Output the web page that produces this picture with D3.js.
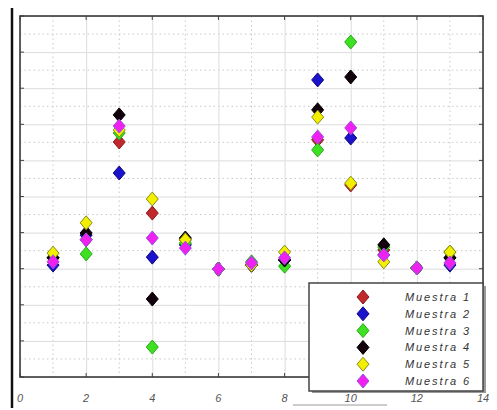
<!DOCTYPE html>
<html>
<head>
<meta charset="utf-8">
<script src="https://cdn.jsdelivr.net/npm/d3@7"></script>
<style>
  body { margin: 0; background: #fff; }
  svg { display: block; }
</style>
</head>
<body>
<div id="chart"></div>
<script>
// x positions of the samples
const xs = [1, 2, 3, 4, 5, 6, 7, 8, 9, 10, 11, 12, 13];

const muestra1 = [3.30, 3.80, 6.51, 4.54, 3.80, 2.99, 3.10, 3.24, 6.57, 5.32, 3.52, 3.02, 3.30];
const muestra2 = [3.10, 3.93, 5.65, 3.32, 3.66, 2.99, 3.10, 3.24, 8.23, 6.62, 3.38, 3.02, 3.10];
const muestra3 = [3.30, 3.41, 6.76, 0.83, 3.71, 2.99, 3.19, 3.07, 6.29, 9.28, 3.60, 3.02, 3.46];
const muestra4 = [3.30, 3.99, 7.26, 2.16, 3.85, 2.99, 3.10, 3.24, 7.40, 8.31, 3.66, 3.02, 3.30];
const muestra5 = [3.43, 4.27, 6.84, 4.93, 3.80, 2.99, 3.10, 3.46, 7.20, 5.37, 3.19, 3.02, 3.46];
const muestra6 = [3.19, 3.80, 6.95, 3.85, 3.57, 2.99, 3.16, 3.30, 6.65, 6.90, 3.38, 3.02, 3.16];

const names = ["Muestra 1", "Muestra 2", "Muestra 3", "Muestra 4", "Muestra 5", "Muestra 6"];
const fills = ["#c0282c", "#1a12cc", "#3ee022", "#12000c", "#f2f000", "#f020f0"];
const edges = ["#8a1a1e", "#10087a", "#28a818", "#000000", "#8a8a18", "#9a50e0"];

const xTicks = [0, 2, 4, 6, 8, 10, 12, 14];

let width = 497;
let height = 410;
let pLeft = 20, pRight = 483, pTop = 16, pBottom = 377;

let series = [muestra1, muestra2, muestra3, muestra4, muestra5, muestra6].map(function(vals, i) {
  return { name: names[i], fill: fills[i], edge: edges[i], points: xs.map(function(x, j) { return { x: x, y: vals[j] }; }) };
});

let svg = d3.select("#chart").append("svg")
  .attr("width", width)
  .attr("height", height);

let x = d3.scaleLinear().domain([0, 14]).range([pLeft, pRight]);
let y = d3.scaleLinear().domain([0, 10]).range([pBottom, pTop]);

let diamond = "M0,-7L6,0L0,7L-6,0Z";

// minor dotted grid
let grid = svg.append("g");
grid.selectAll("line.vminor")
  .data(d3.range(1, 14, 2))
  .enter().append("line")
  .attr("x1", function(d) { return x(d); }).attr("x2", function(d) { return x(d); })
  .attr("y1", pTop).attr("y2", pBottom)
  .attr("stroke", "#c8c8c8").attr("stroke-dasharray", "1.5,3");
grid.selectAll("line.hminor")
  .data(d3.range(0.5, 10, 1))
  .enter().append("line")
  .attr("y1", function(d) { return y(d); }).attr("y2", function(d) { return y(d); })
  .attr("x1", pLeft).attr("x2", pRight)
  .attr("stroke", "#c8c8c8").attr("stroke-dasharray", "1.5,3");

// major grid via axes
svg.append("g")
  .attr("transform", `translate(0, ${pBottom})`)
  .call(d3.axisBottom(x).tickValues(xTicks).tickSize(-(pBottom - pTop)).tickFormat(""))
  .call(function(g) {
    g.select(".domain").remove();
    g.selectAll("line").attr("stroke", "#dcdcdc");
  });
svg.append("g")
  .attr("transform", `translate(${pLeft}, 0)`)
  .call(d3.axisLeft(y).ticks(10).tickSize(-(pRight - pLeft)).tickFormat(""))
  .call(function(g) {
    g.select(".domain").remove();
    g.selectAll("line").attr("stroke", "#dcdcdc");
  });

// inward tick marks on every side
let tk = svg.append("g").attr("stroke", "#444").attr("stroke-width", 1);
[pBottom, pTop].forEach(function(yy, k) {
  tk.selectAll(null).data(xTicks).enter().append("line")
    .attr("x1", function(d) { return x(d); }).attr("x2", function(d) { return x(d); })
    .attr("y1", yy).attr("y2", k === 0 ? yy - 4 : yy + 4);
});
[pLeft, pRight].forEach(function(xx, k) {
  tk.selectAll(null).data(y.ticks(10)).enter().append("line")
    .attr("y1", function(d) { return y(d); }).attr("y2", function(d) { return y(d); })
    .attr("x1", xx).attr("x2", k === 0 ? xx + 4 : xx - 4);
});

// frame
svg.append("rect")
  .attr("x", pLeft).attr("y", pTop)
  .attr("width", pRight - pLeft).attr("height", pBottom - pTop)
  .attr("fill", "none").attr("stroke", "#3a3a3a").attr("stroke-width", 1.6);

// x tick labels
svg.append("g").selectAll("text")
  .data(xTicks)
  .enter().append("text")
  .attr("x", function(d) { return x(d); })
  .attr("y", 402)
  .attr("text-anchor", "middle")
  .attr("font-family", "Liberation Sans, Arial, sans-serif")
  .attr("font-style", "italic")
  .attr("font-size", 11)
  .attr("fill", "#555")
  .text(function(d) { return d; });

// markers
let groups = svg.selectAll("g.series")
  .data(series)
  .enter().append("g")
  .attr("class", "series");

groups.selectAll("path")
  .data(function(d) { return d.points.map(function(p) { return { p: p, s: d }; }); })
  .enter().append("path")
  .attr("d", diamond)
  .attr("transform", function(d) { return `translate(${x(d.p.x)}, ${y(d.p.y)})`; })
  .attr("fill", function(d) { return d.s.fill; })
  .attr("stroke", function(d) { return d.s.edge; })
  .attr("stroke-width", 1);

// legend
let lg = svg.append("g");
lg.append("rect")
  .attr("x", 312).attr("y", 286).attr("width", 174).attr("height", 107)
  .attr("fill", "#999");
lg.append("rect")
  .attr("x", 309).attr("y", 283).attr("width", 174).attr("height", 108)
  .attr("fill", "#fff").attr("stroke", "#444").attr("stroke-width", 1.5);

let item = lg.selectAll("g.item")
  .data(series)
  .enter().append("g")
  .attr("transform", function(d, i) { return `translate(0, ${297 + i * 16.8})`; });

item.append("path")
  .attr("d", diamond)
  .attr("transform", "translate(363, 0)")
  .attr("fill", function(d) { return d.fill; })
  .attr("stroke", function(d) { return d.edge; });

item.append("text")
  .attr("x", 405)
  .attr("y", 4)
  .attr("font-family", "Liberation Sans, Arial, sans-serif")
  .attr("font-style", "italic")
  .attr("font-size", 11)
  .attr("fill", "#333")
  .attr("textLength", 64)
  .attr("lengthAdjust", "spacing")
  .text(function(d) { return d.name; });

// dark border line on the left of the picture
svg.append("line")
  .attr("x1", 12).attr("x2", 12).attr("y1", 8).attr("y2", 408)
  .attr("stroke", "#111").attr("stroke-width", 2.5);
svg.append("line")
  .attr("x1", 293).attr("x2", 387).attr("y1", 405).attr("y2", 405)
  .attr("stroke", "#bbb").attr("stroke-width", 1.5);
</script>
</body>
</html>
